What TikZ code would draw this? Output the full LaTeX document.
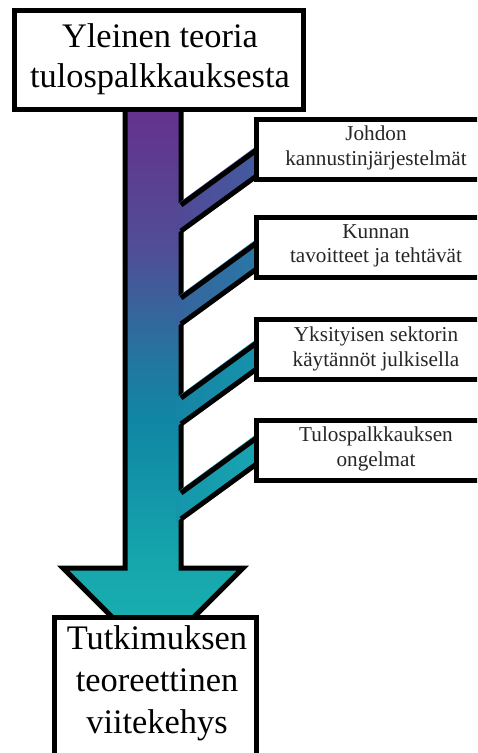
\documentclass[tikz,border=0pt]{standalone}
\usepackage{fontspec}
\setmainfont{Liberation Serif}
\newfontfamily\tnr{Liberation Serif}
\definecolor{s1}{RGB}{102,48,140}
\definecolor{s2}{RGB}{80,78,150}
\definecolor{s3}{RGB}{35,118,160}
\definecolor{s4}{RGB}{16,134,165}
\definecolor{s5}{RGB}{22,166,172}
\definecolor{s6}{RGB}{25,178,178}
\definecolor{b1l}{RGB}{82,72,150}
\definecolor{b1r}{RGB}{66,92,160}
\definecolor{b2l}{RGB}{55,100,158}
\definecolor{b2r}{RGB}{40,120,165}
\definecolor{b3l}{RGB}{22,132,165}
\definecolor{b3r}{RGB}{22,148,172}
\definecolor{b4l}{RGB}{20,150,170}
\definecolor{b4r}{RGB}{25,165,178}
\pgfdeclareverticalshading{arrowshade}{100bp}{color(0bp)=(s6); color(25bp)=(s6); color(33.8bp)=(s5); color(46.3bp)=(s4); color(51.7bp)=(s3); color(61.6bp)=(s2); color(75bp)=(s1); color(100bp)=(s1)}
\begin{document}
\begin{tikzpicture}[x=1pt,y=-1pt,
  edge/.style={line width=5pt, line join=miter},
  bigbox/.style={draw=black, fill=white, line width=5pt, inner sep=0pt},
  bigtext/.style={font=\tnr\fontsize{34.4}{40.5}\selectfont, align=center, inner sep=0pt},
  smalltext/.style={font=\tnr\fontsize{21.2}{24.5}\selectfont, align=center, inner sep=0pt, text=black!85},
  sidebox/.style={bigbox, minimum width=240pt, minimum height=60pt}]
\useasboundingbox (0,0) rectangle (477,753);
\clip (0,0) rectangle (477,753);
% shaft and head
\draw[edge, shading=arrowshade]
  (125,100) -- (181,100) -- (181,568) -- (243,568) -- (153,658) -- (63,568) -- (125,568) -- cycle;
% branches
\foreach \b/\cl/\cr in {205/b1l/b1r, 298/b2l/b2r, 398/b3l/b3r, 493/b4l/b4r}{
  \shade[left color=\cl, right color=\cr]
    (176,\b) -- (262,\b-63) -- (262,\b-33) -- (176,\b+29) -- cycle;
  \draw[edge] (181,\b) -- (262,\b-59);
  \draw[edge] (262,\b-33) -- (181,\b+26);
}
% top box
\node[bigbox, minimum width=289pt, minimum height=99pt] (top) at (158.5,59.5) {};
\node[bigtext] (toptext) at (160,59) {Yleinen teoria\\tulospalkkauksesta};
% side boxes
\node[sidebox] (b1) at (376,149) {};
\node[smalltext] (t1) at (376,148) {Johdon\\kannustinjärjestelmät};
\node[sidebox] (b2) at (376,247) {};
\node[smalltext] (t2) at (376,246) {Kunnan\\tavoitteet ja tehtävät};
\node[sidebox] (b3) at (376,349) {};
\node[smalltext] (t3) at (376,349) {Yksityisen sektorin\\käytännöt julkisella};
\node[sidebox] (b4) at (376,450) {};
\node[smalltext] (t4) at (376,449) {Tulospalkkauksen\\ongelmat};
% bottom box
\node[bigbox, minimum width=202pt, minimum height=160pt] (bottom) at (155,697) {};
\node[bigtext, font=\tnr\fontsize{34.4}{42}\selectfont] (bottomtext) at (157,683) {Tutkimuksen\\teoreettinen\\viitekehys};
\end{tikzpicture}
\end{document}
